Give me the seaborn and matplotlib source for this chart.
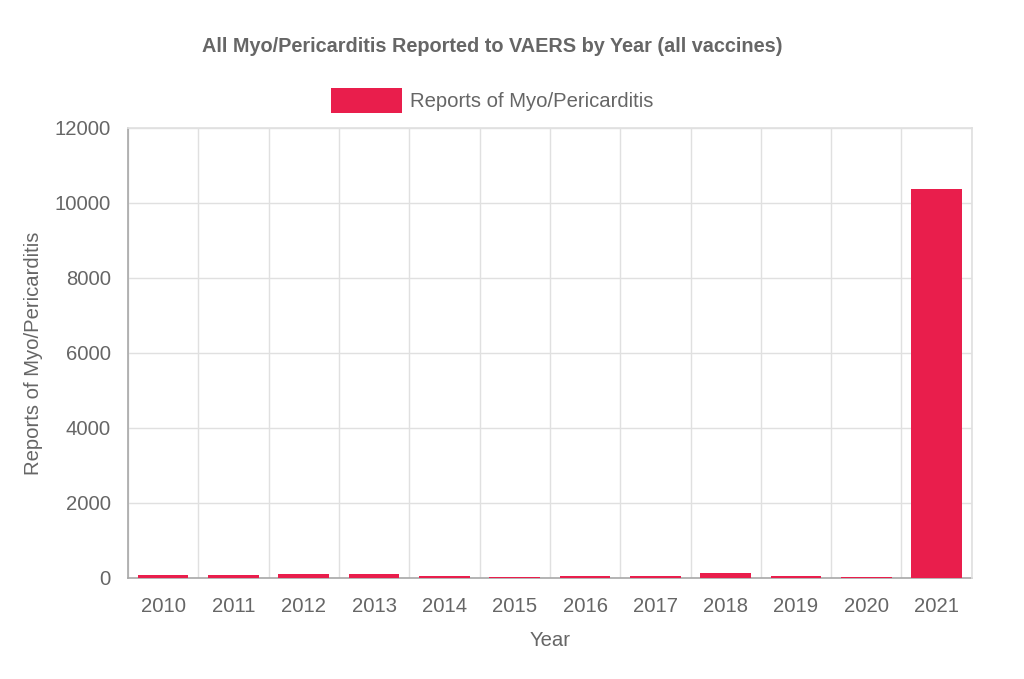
import pandas as pd
import matplotlib.pyplot as plt
import seaborn as sns
from matplotlib.patches import Patch

sns.set_theme(style="white")
plt.rcParams['font.family'] = ['Liberation Sans', 'DejaVu Sans']

years = ["2010", "2011", "2012", "2013", "2014", "2015",
         "2016", "2017", "2018", "2019", "2020", "2021"]
reports = [65, 70, 110, 105, 60, 35, 45, 55, 125, 50, 35, 10380]
series_name = "Reports of Myo/Pericarditis"

df = pd.DataFrame({"year": years, "reports": reports})
red = "#E91E4C"
grey = "#666666"
fs = 14.6

fig = plt.figure(figsize=(10.24, 6.79), dpi=100)
ax = fig.add_axes([0.125, 0.149, 0.824, 0.6625])

sns.barplot(data=df, x="year", y="reports", color=red, width=0.72,
            saturation=1, linewidth=0, edgecolor="none", ax=ax, zorder=5)

ax.set_xlim(-0.5, 11.5)
ax.set_ylim(0, 12000)
ax.set_yticks(range(0, 12001, 2000))

# grid lines sit on the category boundaries
ax.set_xticks([i + 0.5 for i in range(-1, 12)], minor=True)
ax.grid(which="minor", axis="x", color="#e0e0e0", lw=1, zorder=0)
ax.grid(which="major", axis="y", color="#e0e0e0", lw=1, zorder=0)
ax.tick_params(axis="x", which="major", length=0, pad=13.5, labelsize=fs, labelcolor=grey)
ax.tick_params(axis="x", which="minor", length=10.5, color="#e0e0e0", width=1)
ax.tick_params(axis="y", length=11, color="#e0e0e0", width=1, pad=1.5,
               labelsize=fs, labelcolor=grey)

for side in ["top", "right"]:
    ax.spines[side].set_color("#e0e0e0")
for side in ["left", "bottom"]:
    ax.spines[side].set_color("#a8a8a8")
    ax.spines[side].set_linewidth(1.2)
    ax.spines[side].set_zorder(2)

ax.set_xlabel("Year", fontsize=fs, color=grey, labelpad=11)
ax.set_ylabel(series_name, fontsize=fs, color=grey, labelpad=8)

fig.text(0.481, 0.932, "All Myo/Pericarditis Reported to VAERS by Year (all vaccines)",
         ha="center", va="center", fontsize=14.3, fontweight="bold", color=grey)

handle = Patch(facecolor=red, edgecolor="none", label=series_name)
fig.legend(handles=[handle], loc="center", bbox_to_anchor=(0.481, 0.852),
           frameon=False, fontsize=fs, labelcolor=grey,
           handlelength=3.5, handleheight=1.45, handletextpad=0.4)

plt.savefig("out.png", dpi=100)
plt.close()
